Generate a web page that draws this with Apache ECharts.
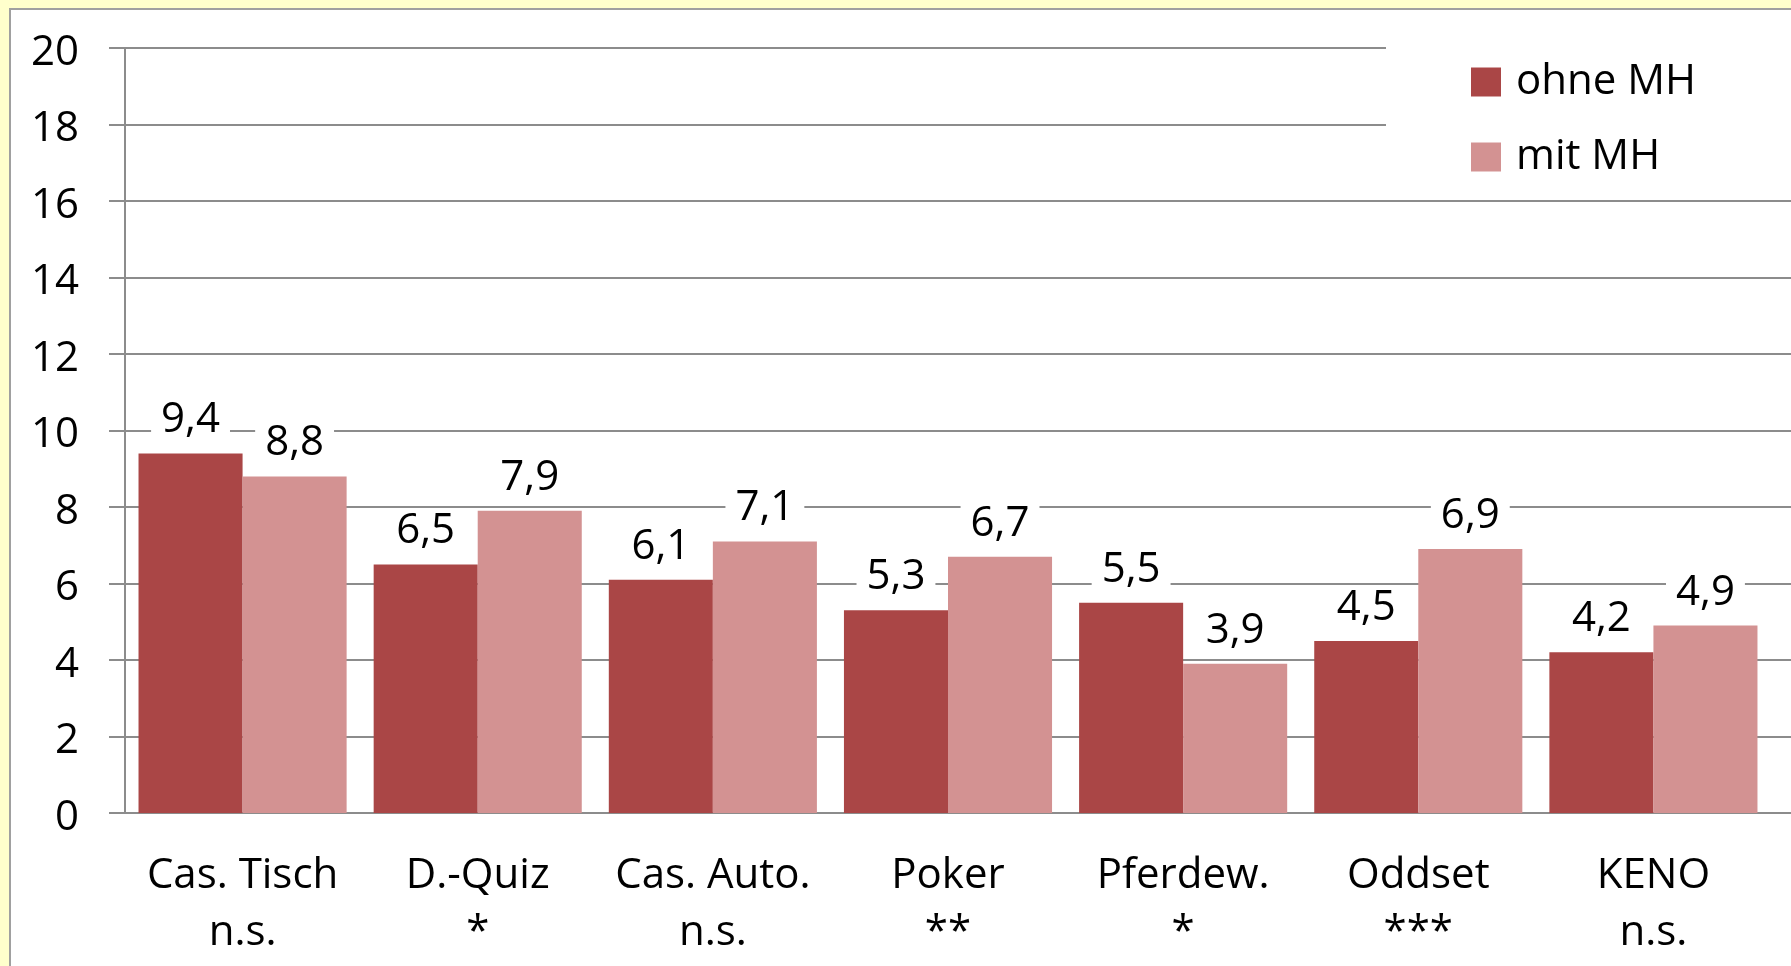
<!DOCTYPE html>
<html>
<head>
<meta charset="utf-8">
<script src="https://cdn.jsdelivr.net/npm/echarts@6/dist/echarts.min.js"></script>
<style>
  html, body { margin: 0; padding: 0; background: #ffffcc; overflow: hidden; }
  #frame {
    position: absolute; left: 9px; top: 8px; width: 1800px; height: 980px;
    background: #fff; border-left: 2px solid #a0a0a0; border-top: 2px solid #a0a0a0;
  }
  #chart { position: absolute; left: 0; top: 0; width: 1791px; height: 966px; }
</style>
</head>
<body>
<div id="frame"></div>
<div id="chart"></div>
<script>
// Kategorien und Werte
var categories = ['Cas. Tisch\nn.s.', 'D.-Quiz\n*', 'Cas. Auto.\nn.s.', 'Poker\n**', 'Pferdew.\n*', 'Oddset\n***', 'KENO\nn.s.'];
var ohneMH = [9.4, 6.5, 6.1, 5.3, 5.5, 4.5, 4.2];
var mitMH = [8.8, 7.9, 7.1, 6.7, 3.9, 6.9, 4.9];

var font = 'Open Sans';
var gridColor = '#8c8c8c';
var fs = 42;

var myChart = echarts.init(document.getElementById('chart'));

var barLabel = {
  show: true,
  position: 'top',
  distance: 12,
  fontFamily: font,
  fontSize: fs,
  color: '#000',
  backgroundColor: '#fff',
  padding: [0, 10],
  formatter: function (p) {
    return String(p.value).replace('.', ',');
  }
};

myChart.setOption({
  animation: false,
  textStyle: { fontFamily: font },
  grid: [
    { left: 125, right: 20, top: 48, bottom: 153 },
    // nur für die Gitterlinien bis zum rechten Rand
    { left: 125, right: 0, top: 48, bottom: 153 }
  ],
  legend: {
    orient: 'vertical',
    left: 1386,
    top: 30,
    padding: [31, 150, 4, 85],
    backgroundColor: '#fff',
    icon: 'rect',
    itemWidth: 30,
    itemHeight: 29,
    itemGap: 33,
    textStyle: { fontSize: fs, color: '#000', fontFamily: font, padding: [0, 0, 0, 10] },
    data: ['ohne MH', 'mit MH'],
    z: 10
  },
  xAxis: [
    {
      type: 'category',
      gridIndex: 0,
      data: categories,
      axisLine: { lineStyle: { color: gridColor, width: 2 } },
      axisTick: { length: 14, lineStyle: { color: gridColor, width: 2 } },
      axisLabel: {
        fontSize: fs,
        lineHeight: 57,
        color: '#000',
        margin: 35,
        interval: 0
      }
    },
    {
      type: 'value',
      gridIndex: 1,
      show: false
    }
  ],
  yAxis: [
    {
      type: 'value',
      gridIndex: 0,
      min: 0,
      max: 20,
      interval: 2,
      axisLine: { show: true, lineStyle: { color: gridColor, width: 2 } },
      axisTick: { show: true, length: 16, lineStyle: { color: gridColor, width: 2 } },
      axisLabel: {
        fontSize: fs,
        color: '#000',
        margin: 46,
        formatter: '{v|{value}}',
        rich: { v: { fontSize: fs, fontFamily: font, color: '#000', padding: [10, 0, 0, 0] } }
      },
      splitLine: { show: false }
    },
    {
      type: 'value',
      gridIndex: 1,
      min: 0,
      max: 20,
      interval: 2,
      axisLine: { show: false },
      axisTick: { show: false },
      axisLabel: { show: false },
      splitLine: { show: true, lineStyle: { color: gridColor, width: 2 } }
    }
  ],
  series: [
    {
      name: 'ohne MH',
      type: 'bar',
      xAxisIndex: 0,
      yAxisIndex: 0,
      data: ohneMH,
      barGap: '0%',
      barCategoryGap: '11.5%',
      itemStyle: { color: '#aa4646' },
      label: barLabel,
      z: 3
    },
    {
      name: 'mit MH',
      type: 'bar',
      xAxisIndex: 0,
      yAxisIndex: 0,
      data: mitMH,
      barGap: '0%',
      barCategoryGap: '11.5%',
      itemStyle: { color: '#d39292' },
      label: barLabel,
      z: 3
    }
  ]
});
</script>
</body>
</html>
